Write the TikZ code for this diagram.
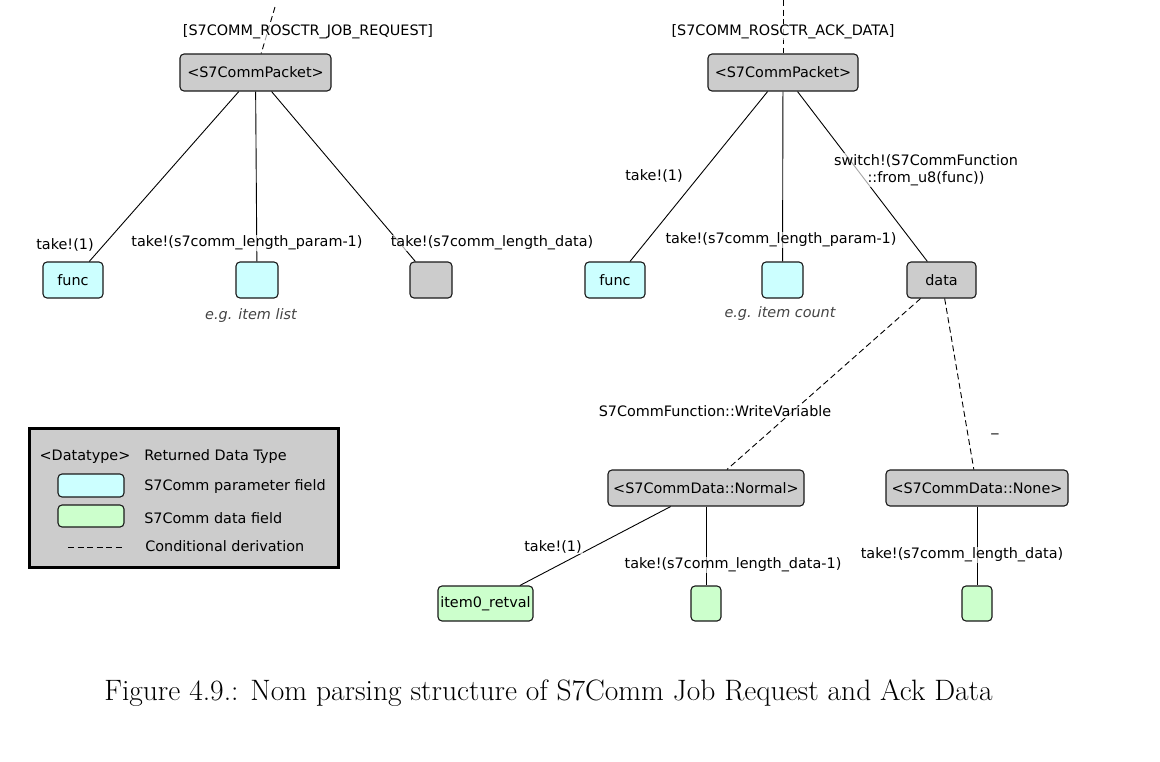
\documentclass[tikz,border=0pt]{standalone}
\usepackage{fontspec}
\newfontfamily\dia{DejaVu Sans}
\definecolor{typegray}{HTML}{CCCCCC}
\definecolor{paramcyan}{HTML}{CCFFFF}
\definecolor{datagreen}{HTML}{CCFFCC}
\definecolor{notegray}{HTML}{444444}
\tikzset{
    box/.style={draw=black!90, line width=1.1pt, rounded corners=4pt, inner sep=0pt, align=center},
    packet/.style={box, fill=typegray, minimum height=37pt},
    param/.style={box, fill=paramcyan, minimum height=36pt},
    datafield/.style={box, fill=datagreen, minimum height=35pt},
    edgelbl/.style={fill=white, fill opacity=0.65, text opacity=1, inner sep=1pt},
    note/.style={text=notegray, font=\dia\fontsize{14.4}{17}\selectfont\itshape},
    cond/.style={dash pattern=on 6pt off 3.5pt},
}

\begin{document}
\begin{tikzpicture}[x=1pt, y=-1pt, line width=0.9pt,
            every node/.style={font=\dia\fontsize{14.4}{17}\selectfont}]
            \useasboundingbox (0,0) rectangle (1160,761);

            \node[packet, minimum width=151pt] (jobpkt) at (255.5,72.5) {<S7CommPacket>};
            \node[packet, minimum width=150pt] (ackpkt) at (783,72.5) {<S7CommPacket>};
            \node[param, minimum width=60pt] (jobfunc) at (73,280) {func};
            \node[param, minimum width=42pt] (jobparam) at (257,280) {};
            \node[packet, minimum width=42pt, minimum height=36pt] (jobdata) at (431,280) {};
            \node[param, minimum width=60pt] (ackfunc) at (615,280) {func};
            \node[param, minimum width=41pt] (ackparam) at (782.5,280) {};
            \node[packet, minimum width=69pt, minimum height=36pt] (ackdata) at (941.5,280) {data};
            \node[packet, minimum width=196pt, minimum height=36pt] (normal) at (706,488) {<S7CommData::Normal>};
            \node[packet, minimum width=182pt, minimum height=36pt] (none) at (977,488) {<S7CommData::None>};
            \node[datafield, minimum width=95pt] (retval) at (485.5,603.5) {item0\_retval};
            \node[datafield, minimum width=30pt] (normdata) at (706,603.5) {};
            \node[datafield, minimum width=30pt] (nonedata) at (977,603.5) {};

            \coordinate (jobin) at (275,7);
            \coordinate (ackin) at (783,0);
            \draw[cond] (jobin) -- (jobpkt);
            \draw[cond] (ackin) -- (ackpkt);
            \draw (jobpkt) -- (jobfunc);
            \draw (jobpkt) -- (jobparam);
            \draw (jobpkt) -- (jobdata);
            \draw (ackpkt) -- (ackfunc);
            \draw (ackpkt) -- (ackparam);
            \draw (ackpkt) -- (ackdata);
            \draw[cond] (ackdata) -- (normal);
            \draw[cond] (ackdata) -- (none);
            \draw (normal) -- (retval);
            \draw (normal) -- (normdata);
            \draw (none) -- (nonedata);

            \node[edgelbl] (jobtag) at (308,32) {[S7COMM\_ROSCTR\_JOB\_REQUEST]};
            \node[edgelbl] (acktag) at (783,32) {[S7COMM\_ROSCTR\_ACK\_DATA]};
            \node[edgelbl] (jobfunclbl) at (65,245) {take!(1)};
            \node[edgelbl] (jobparamlbl) at (247,243) {take!(s7comm\_length\_param-1)};
            \node[edgelbl] (jobdatalbl) at (492,243) {take!(s7comm\_length\_data)};
            \node[edgelbl] (ackfunclbl) at (654,176) {take!(1)};
            \node[edgelbl] (ackparamlbl) at (781,240) {take!(s7comm\_length\_param-1)};
            \node[edgelbl, align=center] (switchlbl) at (926,170) {switch!(S7CommFunction\\::from\_u8(func))};
            \node[edgelbl] (writelbl) at (715,411) {S7CommFunction::WriteVariable};
            \node (otherlbl) at (995,433) {\_};
            \node[edgelbl] (retvallbl) at (553,547) {take!(1)};
            \node[edgelbl] (normdatalbl) at (733,565) {take!(s7comm\_length\_data-1)};
            \node[edgelbl] (nonedatalbl) at (962,555) {take!(s7comm\_length\_data)};
            \node[note] (jobnote) at (251,316) {e.g. item list};
            \node[note] (acknote) at (780,314) {e.g. item count};

            \node[draw, line width=2.6pt, fill=typegray, minimum width=309pt, minimum height=139pt] (legend) at (184,498) {};
            \node (ltype) at (85,457) {<Datatype>};
            \node[anchor=west] (ltypetxt) at (140.5,457) {Returned Data Type};
            \node[param, minimum width=66pt, minimum height=23pt] (lparam) at (91,485.5) {};
            \node[anchor=west] (lparamtxt) at (140.5,487) {S7Comm parameter field};
            \node[datafield, minimum width=66pt, minimum height=22pt] (ldata) at (91,516) {};
            \node[anchor=west] (ldatatxt) at (140.5,518) {S7Comm data field};
            \coordinate (lconda) at (68,547);
            \coordinate (lcondb) at (123,547);
            \draw[cond, line width=1pt] (lconda) -- (lcondb);
            \node[anchor=west] (lcondtxt) at (141.5,546) {Conditional derivation};

            \node[font=\rmfamily\fontsize{29.5}{34}\selectfont] (caption) at (548.5,693) {Figure 4.9.: Nom parsing structure of S7Comm Job Request and Ack Data};
        \end{tikzpicture}
\end{document}
